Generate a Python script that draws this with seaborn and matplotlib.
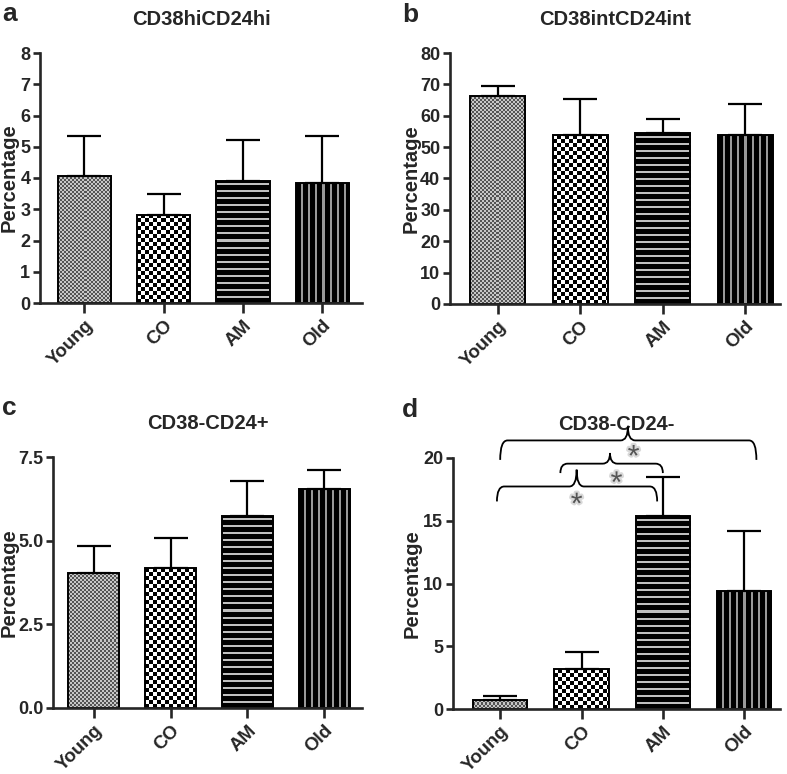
import numpy as np
import pandas as pd
import seaborn as sns
import matplotlib.pyplot as plt
from matplotlib.path import Path
from matplotlib.patches import PathPatch
import matplotlib.patheffects as pe

# ── Data ──────────────────────────────────────────────────────────────────────
groups = ["Young", "CO", "AM", "Old"]

a_mean = [4.05, 2.83, 3.92, 3.84]
a_sem = [1.31, 0.66, 1.31, 1.51]

b_mean = [66.4, 54.0, 54.5, 54.0]
b_sem = [3.2, 11.4, 4.5, 9.7]

c_mean = [4.04, 4.18, 5.74, 6.53]
c_sem = [0.81, 0.91, 1.05, 0.58]

d_mean = [0.72, 3.17, 15.4, 9.44]
d_sem = [0.32, 1.40, 3.06, 4.71]

titles = ["CD38hiCD24hi", "CD38intCD24int", "CD38-CD24+", "CD38-CD24-"]
letters = ["a", "b", "c", "d"]

# ── Style ─────────────────────────────────────────────────────────────────────
sns.set_style("ticks")
plt.rcParams["font.family"] = ["Liberation Sans", "DejaVu Sans"]
plt.rcParams["font.weight"] = "bold"
plt.rcParams["axes.labelweight"] = "bold"
plt.rcParams["axes.titleweight"] = "bold"
plt.rcParams["axes.linewidth"] = 1.9


def pattern(kind, ny, nx):
    yy, xx = np.mgrid[0:ny, 0:nx]
    if kind == "fine":
        return np.where(((xx // 2) + (yy // 2)) % 2 == 0, 0.33, 0.78)
    if kind == "check":
        return np.where(((xx // 4) + (yy // 4)) % 2 == 0, 0.0, 1.0)
    if kind == "hstripe":
        return np.where(yy % 7 < 5, 0.0, 0.75)
    return np.where(xx % 7 < 5, 0.0, 0.6)


kinds = ["fine", "check", "hstripe", "vstripe"]


def fill_bars(ax):
    for patch, kind in zip(ax.patches, kinds):
        x0, y0 = patch.get_x(), patch.get_y()
        w, h = patch.get_width(), patch.get_height()
        p0 = ax.transData.transform((x0, y0))
        p1 = ax.transData.transform((x0 + w, y0 + h))
        nx = max(int(round(abs(p1[0] - p0[0]))), 1)
        ny = max(int(round(abs(p1[1] - p0[1]))), 1)
        im = ax.imshow(pattern(kind, ny, nx), cmap="gray", vmin=0, vmax=1,
                       extent=(x0, x0 + w, y0, y0 + h), origin="lower",
                       interpolation="nearest", aspect="auto", zorder=1)
        im.set_clip_path(patch)
        patch.set_facecolor("none")
        patch.set_zorder(2)


def brace(ax, x1, x2, xm, y, y_end, y_peak, r=0.09):
    verts = [(x1, y_end), (x1, y), (x1 + r, y),
             (xm - r, y), (xm, y), (xm, y_peak),
             (xm, y), (xm + r, y),
             (x2 - r, y), (x2, y), (x2, y_end)]
    codes = [Path.MOVETO, Path.CURVE3, Path.CURVE3,
             Path.LINETO, Path.CURVE3, Path.CURVE3,
             Path.CURVE3, Path.CURVE3,
             Path.LINETO, Path.CURVE3, Path.CURVE3]
    ax.add_patch(PathPatch(Path(verts, codes), facecolor="none",
                           edgecolor="black", lw=1.3, clip_on=False, zorder=4))


def star(ax, x, y):
    ax.text(x, y, "*", fontsize=22, color="#555555", ha="center", va="center",
            fontweight="normal", clip_on=False, zorder=5,
            path_effects=[pe.withStroke(linewidth=3, foreground="#d9d9d9")])


# ── Figure ────────────────────────────────────────────────────────────────────
fig = plt.figure(figsize=(7.87, 7.74), dpi=100)

W, H = 787, 774
boxes = [(40, 362, 53, 303), (450, 780, 53, 304),
         (53, 362, 457, 708), (453, 780, 458, 709)]
xlims = [(-0.56, 3.5), (-0.58, 3.42), (-0.53, 3.49), (-0.58, 3.44)]
ylims = [(0, 8), (0, 80), (0, 7.5), (0, 20)]
yticks = [np.arange(0, 9, 1), np.arange(0, 81, 10), [0, 2.5, 5, 7.5], [0, 5, 10, 15, 20]]
label_x = [-0.065, -0.088, -0.11, -0.095]
means = [a_mean, b_mean, c_mean, d_mean]
sems = [a_sem, b_sem, c_sem, d_sem]

axes = []
for i in range(4):
    l, r, t, b = boxes[i]
    ax = fig.add_axes([l / W, 1 - b / H, (r - l) / W, (b - t) / H])
    df = pd.DataFrame({"group": groups, "value": means[i]})
    sns.barplot(data=df, x="group", y="value", color="white", edgecolor="black",
                linewidth=1.4, width=0.67, errorbar=None, ax=ax)
    ax.errorbar(np.arange(4), means[i], yerr=[np.zeros(4), sems[i]], fmt="none",
                ecolor="black", elinewidth=1.6, capsize=12, capthick=1.6, zorder=3)
    ax.set_xlim(*xlims[i])
    ax.set_ylim(*ylims[i])
    ax.set_yticks(yticks[i])
    if i == 2:
        ax.set_yticklabels(["0.0", "2.5", "5.0", "7.5"])
    fill_bars(ax)
    ax.set_xlim(*xlims[i])
    ax.set_ylim(*ylims[i])
    sns.despine(ax=ax)
    ax.set_xlabel("")
    ax.set_ylabel("Percentage", fontsize=14.5, fontweight="bold")
    ax.yaxis.set_label_coords(label_x[i], 0.5)
    ax.tick_params(axis="y", labelsize=13, width=1.9, length=5, pad=2)
    ax.tick_params(axis="x", labelsize=13.5, width=1.9, length=7, pad=3)
    for lab in ax.get_xticklabels():
        lab.set_rotation(45)
        lab.set_ha("right")
        lab.set_rotation_mode("anchor")
        lab.set_fontweight("bold")
    for lab in ax.get_yticklabels():
        lab.set_fontweight("bold")
    ax.set_title(titles[i], fontsize=14.5, fontweight="bold", pad=20)
    axes.append(ax)

# panel letters
letter_pos = [(2, 21), (402, 22), (2, 415), (402, 417)]
for letter, (px, py) in zip(letters, letter_pos):
    fig.text(px / W, 1 - py / H, letter, fontsize=19, fontweight="bold",
             va="baseline", ha="left")

# significance braces on panel d
axd = axes[3]
brace(axd, 0.0, 3.15, 1.57, 21.4, 19.85, 22.5)
brace(axd, 0.74, 2.0, 1.35, 19.55, 18.8, 20.4)
brace(axd, -0.04, 1.93, 0.94, 17.73, 16.54, 19.07)
star(axd, 1.64, 20.0)
star(axd, 1.43, 17.9)
star(axd, 0.94, 16.2)

fig.savefig("out.png", dpi=100)
